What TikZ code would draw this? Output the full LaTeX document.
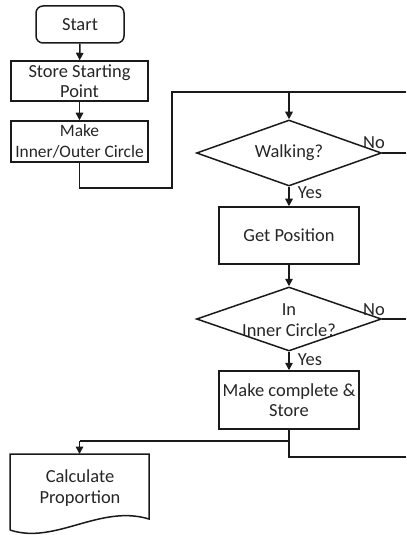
\documentclass[tikz,border=0pt]{standalone}
\usepackage{fontspec}
\setmainfont{Carlito}
\usetikzlibrary{shapes.geometric,arrows.meta}
\definecolor{txt}{HTML}{262626}
\definecolor{ln}{HTML}{1A1A1A}
\begin{document}
\begin{tikzpicture}[x=1bp,y=-1bp,
  every node/.style={text=txt,font=\fontsize{18.5}{20.5}\selectfont,inner sep=0pt},
  box/.style={draw=ln,line width=1.5bp,minimum width=#1,align=center},
  dia/.style={draw=ln,line width=1.5bp,diamond,aspect=2.8,minimum width=185bp,minimum height=66bp},
  con/.style={draw=ln,line width=1.5bp},
  arr/.style={con,-{Triangle[length=7.5bp,width=7.5bp]}},
  lbl/.style={font=\fontsize{18.5}{20}\selectfont}]
\useasboundingbox (0,0) rectangle (406,535);
% nodes
\node[box=88bp,minimum height=37bp,rounded corners=7bp] (start) at (80,24.5) {Start};
\node[box=137bp,minimum height=40bp] (store) at (79.5,81) {Store Starting\\Point};
\node[box=137bp,minimum height=41bp,font=\fontsize{17.5}{21}\selectfont] (make) at (79.5,141.5) {Make\\Inner/Outer Circle};
\node[dia] (walk) at (289,153) {};
\node at (walk) (walkt) {Walking?};
\node[box=140bp,minimum height=57bp] (getpos) at (289,235.5) {Get Position};
\node[dia,minimum height=64bp] (inner) at (289,319) {};
\node[align=center,font=\fontsize{18.5}{21}\selectfont] at (289,320) (innert) {In\\Inner Circle?};
\node[box=140bp,minimum height=58bp] (store2) at (289,400) {Make complete \&\\Store};
% document shape
\coordinate (doctop) at (79.5,454);
\draw[con] (10,530) -- (10,454) -- (149,454) -- (149,519)
  .. controls (100,504) and (55,545) .. (10,530);
\node[align=center] (calc) at (80,488) {Calculate\\Proportion};
% labels
\node[lbl] (no1) at (374,143) {No};
\node[lbl] (yes1) at (310,192.5) {Yes};
\node[lbl] (no2) at (374,310) {No};
\node[lbl] (yes2) at (310,359.5) {Yes};
% helper coordinates
\coordinate (loopA) at (79.5,188);
\coordinate (loopB) at (172,188);
\coordinate (loopC) at (172,92);
\coordinate (topR) at (406,92);
\coordinate (topM) at (289,92);
\coordinate (r1) at (406,153);
\coordinate (r2) at (406,319);
\coordinate (j) at (289,441);
\coordinate (jl) at (79.5,441);
\coordinate (jb) at (289,457);
\coordinate (jr) at (406,457);
% connectors
\draw[arr] (start) -- (store);
\draw[arr] (store) -- (make);
\draw[con] (make.south) -- (loopA) -- (loopB) -- (loopC) -- (topR);
\draw[arr] (topM) -- (walk.north);
\draw[con] (walk.east) -- (r1);
\draw[arr] (walk.south) -- (getpos.north);
\draw[arr] (getpos.south) -- (inner.north);
\draw[con] (inner.east) -- (r2);
\draw[arr] (inner.south) -- (store2.north);
\draw[con] (store2.south) -- (jb) -- (jr);
\draw[con] (j) -- (jl);
\draw[arr] (jl) -- (doctop);
\end{tikzpicture}
\end{document}
